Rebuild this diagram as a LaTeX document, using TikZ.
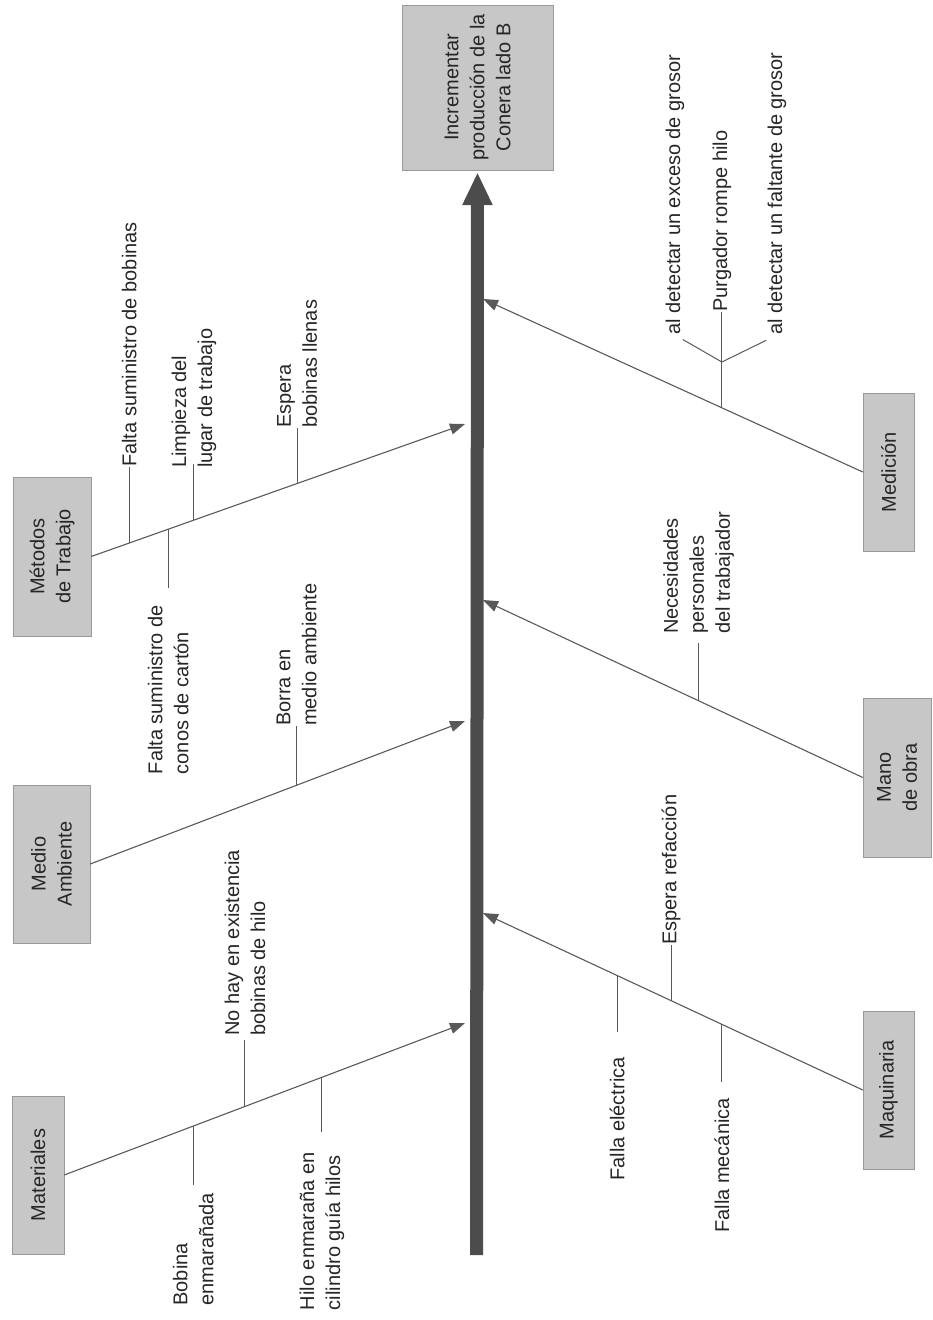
\documentclass[tikz,border=0pt]{standalone}
\usepackage{fontspec}
\setmainfont{Liberation Sans}
\usetikzlibrary{arrows.meta}

\begin{document}
\begin{tikzpicture}[x=1pt,y=-1pt]
	\tikzstyle{every node}=[font=\fontsize{20}{26}\selectfont, text=black!85, inner sep=0pt]
	\tikzstyle{catbox}=[draw=black!40, fill=black!22, rotate=90, align=center]
	\tikzstyle{bone}=[draw=black!65, line width=1.1pt, -{Triangle[length=15pt,width=11pt]}]
	\tikzstyle{rib}=[draw=black!65, line width=1pt]
	\tikzstyle{causeup}=[rotate=90, anchor=west, align=left]
	\tikzstyle{causedown}=[rotate=90, anchor=east, align=left]
	\useasboundingbox (0,0) rectangle (932,1320);
	% efecto y espina
	\node[catbox, minimum width=165pt, minimum height=151pt] (efecto) at (477.5,87.5) {Incrementar\\producción de la\\Conera lado B};
	\coordinate (base) at (476.5,1255);
	\draw[black!70, line width=13pt, -{Triangle[length=33pt,width=28pt]}, shorten >=2pt] (base) -- (efecto.west);
	\coordinate (p1) at (465,424);
	\coordinate (p2) at (465,721);
	\coordinate (p3) at (465,1023);
	\coordinate (p4) at (483,299);
	\coordinate (p5) at (483,600);
	\coordinate (p6) at (483,913);
	% categorias
	\node[catbox, minimum width=159pt, minimum height=78pt] (metodos) at (52,556.5) {Métodos\\de Trabajo};
	\node[catbox, minimum width=158pt, minimum height=77pt] (medio) at (51.5,864) {Medio\\Ambiente};
	\node[catbox, minimum width=158pt, minimum height=52pt] (materiales) at (38,1175) {Materiales};
	\node[catbox, minimum width=158pt, minimum height=51pt] (medicion) at (888.5,472) {Medición};
	\node[catbox, minimum width=159pt, minimum height=68pt] (mano) at (897,777.5) {Mano\\de obra};
	\node[catbox, minimum width=158pt, minimum height=51pt] (maquinaria) at (888.5,1090) {Maquinaria};
	% espinas
	\draw[bone] (metodos.south) -- coordinate[pos=0.102] (m1) coordinate[pos=0.206] (m2) coordinate[pos=0.275] (m3) coordinate[pos=0.551] (m4) (p1);
	\draw[bone] (medio.south) -- coordinate[pos=0.551] (m5) (p2);
	\draw[bone] (materiales.south) -- coordinate[pos=0.322] (m6) coordinate[pos=0.451] (m7) coordinate[pos=0.643] (m8) (p3);
	\draw[bone] (medicion.north) -- coordinate[pos=0.371] (m9) (p4);
	\draw[bone] (mano.north) -- coordinate[pos=0.432] (m10) (p5);
	\draw[bone] (maquinaria.north) -- coordinate[pos=0.371] (m11) coordinate[pos=0.505] (m12) coordinate[pos=0.647] (m13) (p6);
	% Metodos de Trabajo
	\node[causeup] (c1) at (m1 |- 0,467) {Falta suministro de bobinas};
	\draw[rib] (m1) -- (c1.west);
	\node[causedown] (c2) at (m2 |- 0,605) {Falta suministro de\\conos de cartón};
	\draw[rib, shorten >=17pt] (m2) -- (c2.east);
	\node[causeup] (c3) at (m3 |- 0,468) {Limpieza del\\lugar de trabajo};
	\draw[rib, shorten >=-4pt] (m3) -- (c3.west);
	\node[causeup] (c4) at (m4 |- 0,428) {Espera\\bobinas llenas};
	\draw[rib] (m4) -- (c4.west);
	% Medio Ambiente
	\node[causeup] (c5) at (m5 |- 0,726) {Borra en\\medio ambiente};
	\draw[rib] (m5) -- (c5.west);
	% Materiales
	\node[causedown] (c6) at (m6 |- 0,1193) {Bobina\\enmarañada};
	\draw[rib, shorten >=8pt] (m6) -- (c6.east);
	\node[causeup] (c7) at (m7 |- 0,1036) {No hay en existencia\\bobinas de hilo};
	\draw[rib, shorten >=4pt] (m7) -- (c7.west);
	\node[causedown] (c8) at (m8 |- 0,1152) {Hilo enmaraña en\\cilindro guía hilos};
	\draw[rib, shorten >=20pt] (m8) -- (c8.east);
	% Medicion
	\coordinate (j) at (m9 |- 0,362);
	\draw[rib] (m9) -- (j);
	\node[causeup] (c9a) at (675,335) {al detectar un exceso de grosor};
	\node[causeup] (c9b) at (j |- 0,312) {Purgador rompe hilo};
	\node[causeup] (c9c) at (777,335) {al detectar un faltante de grosor};
	\draw[rib] (j) -- (c9b.west);
	\draw[rib, shorten >=9pt] (j) -- (c9a.west);
	\draw[rib, shorten >=12pt] (j) -- (c9c.west);
	% Mano de obra
	\node[causeup] (c10) at (m10 |- 0,634) {Necesidades\\personales\\del trabajador};
	\draw[rib, shorten >=9pt] (m10) -- (c10.west);
	% Maquinaria
	\node[causedown] (c11) at (m11 |- 0,1098) {Falla mecánica};
	\draw[rib, shorten >=16pt] (m11) -- (c11.east);
	\node[causeup] (c12) at (m12 |- 0,945) {Espera refacción};
	\draw[rib] (m12) -- (c12.west);
	\node[causedown] (c13) at (m13 |- 0,1057) {Falla eléctrica};
	\draw[rib, shorten >=25pt] (m13) -- (c13.east);
\end{tikzpicture}
\end{document}
